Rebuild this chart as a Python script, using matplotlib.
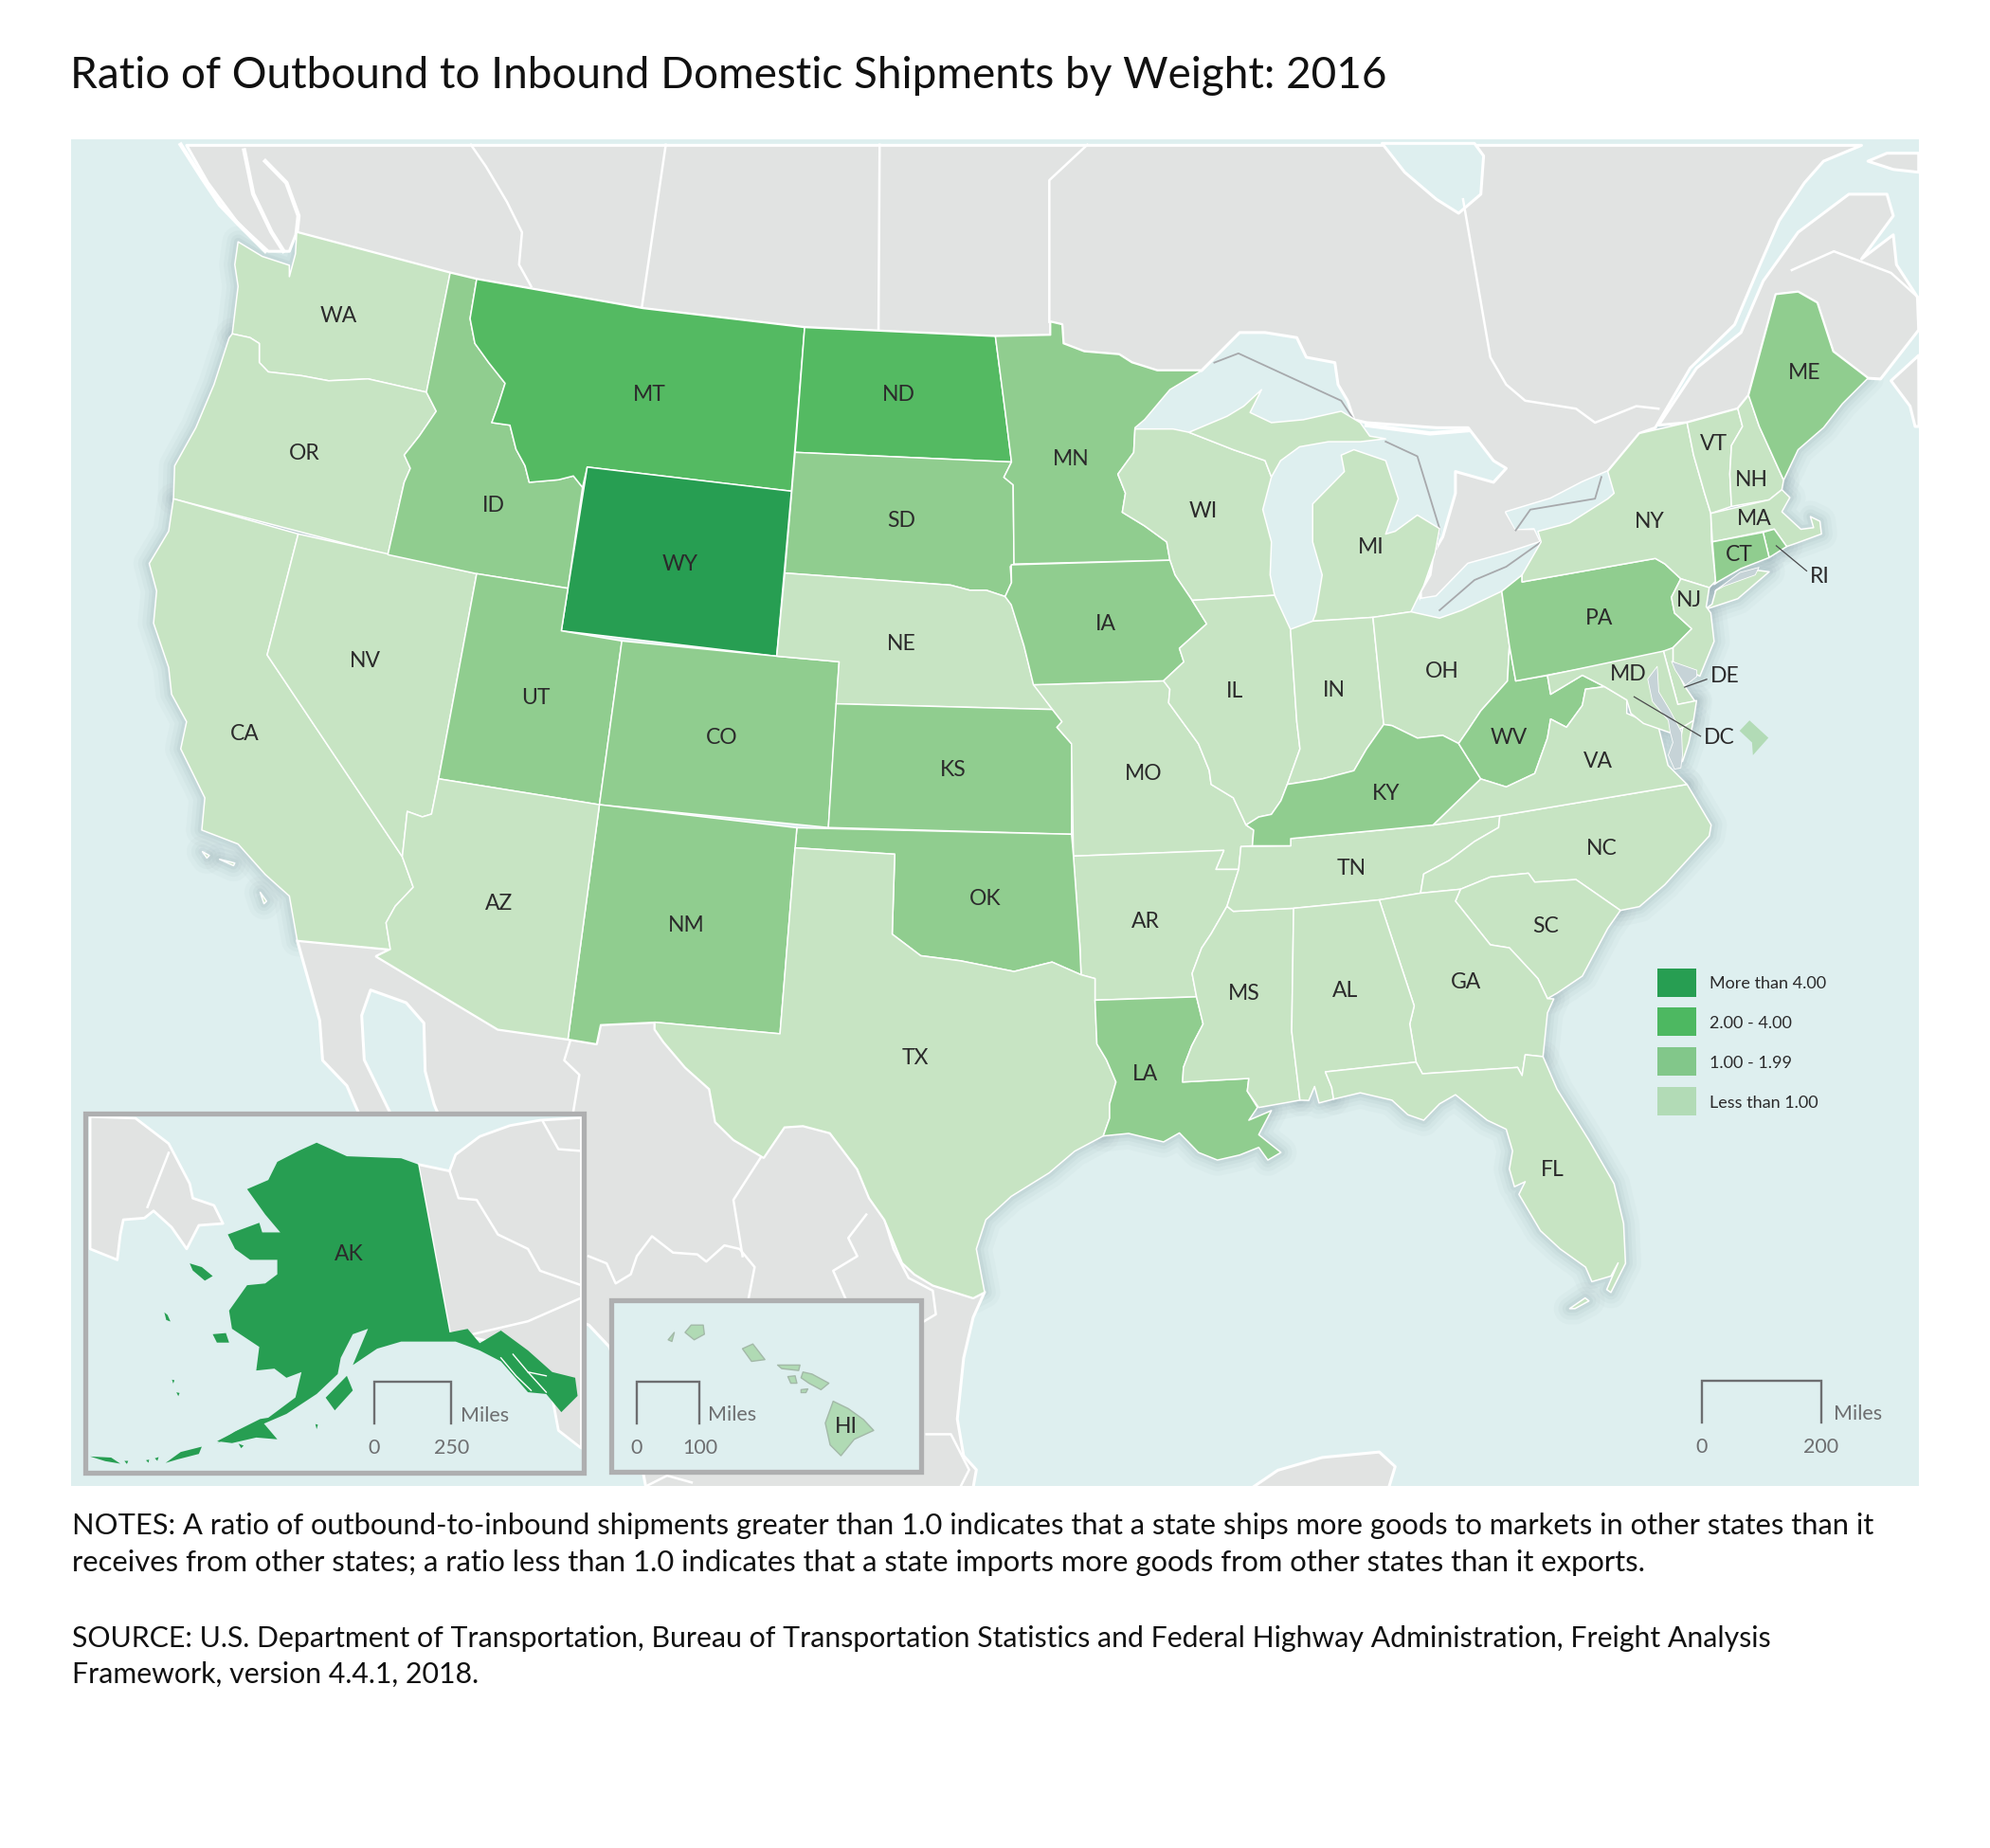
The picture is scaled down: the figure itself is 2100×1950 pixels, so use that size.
import matplotlib
matplotlib.use("Agg")
import matplotlib.pyplot as plt
from matplotlib.patches import Polygon, Rectangle

plt.rcParams['font.family'] = ['Lato', 'DejaVu Sans']

WA = [(233.8,183),(354.7,215),(336,309),(290,298.5),(259,300),(237.6,296),(211.4,293),(204.3,285.6),(204.3,270.6),(197,266),(183,263),(187.6,225.6),(185,208.5),(187.6,190.5),(206.6,202),(228,209),(228,218),(232.8,200)]
OR = [(180.5,266.3),(183,263),(197,266),(204.3,270.6),(204.3,285.6),(211.4,293),(237.6,296),(259,300),(290,298.5),(336,309),(343.7,324),(330.4,343.5),(318.5,358.5),(323.3,369),(318.5,380),(305.6,437),(136.7,393),(137.6,367),(154.3,337),(168.6,303)]
CA = [(136.7,393),(235,420.7),(210.5,516),(317,675),(325.6,699),(311.4,714),(304.2,727),(307.6,748),(234.2,741),(228,706),(209,689),(187.6,665),(159,654),(161.4,628.6),(142.4,590),(147,568.6),(135.2,547),(132.9,526),(121,491),(123.4,465.7),(117.6,444),(132.9,418.5)]
NV = [(235,420.7),(375.6,452),(345.6,613.6),(340,641.4),(332.8,643.6),(320.9,639.3),(317,675),(210.5,516)]
ID = [(354.7,215),(375.6,220),(370.4,251),(374.2,270.6),(385,285.6),(398,302),(392.3,320),(387.5,333),(401.8,335),(406.6,354),(413.7,367),(417,380),(440,378),(451.8,375),(459,384),(447.5,463.5),(375.6,452),(305.6,437),(318.5,380),(323.3,369),(318.5,358.5),(330.4,343.5),(343.7,324),(336,309)]
MT = [(375.6,220),(506.5,243),(634,258),(623.6,387),(462.7,368),(459,384),(451.8,375),(440,378),(417,380),(413.7,367),(406.6,354),(401.8,335),(387.5,333),(392.3,320),(398,302),(385,285.6),(374.2,270.6),(370.4,251)]
ND = [(634,258),(784.3,265),(792,324),(797,364),(626.5,356.4)]
SD = [(626.5,356.4),(797,364),(791,376),(798.3,382),(799,444.4),(796,446.4),(797,459),(792,470),(777,465),(764,465),(749,461),(618.4,451.5)]
WY = [(462.7,368),(623.6,387),(612,517),(442.3,497)]
UT = [(375.6,452),(447.5,463.5),(442.3,497),(490,505),(472.3,634),(345.6,613.6)]
CO = [(490,505),(612,517),(661.2,521.4),(652.7,652),(472.3,634)]
NE = [(618.4,451.5),(749,461),(764,465),(777,465),(792,470),(797,476.5),(806.8,508.6),(814.3,538.6),(829.3,559),(658.8,554.5),(661.2,521.4),(612,517)]
KS = [(658.8,554.5),(829.3,559),(836.8,568.6),(832.8,573),(844.3,586),(844.3,657.3),(652.7,652)]
MO = [(814.3,539.5),(916.8,536.4),(921.8,543),(920.8,553.7),(944.3,586),(952.8,607),(954.3,618),(971.8,628.6),(981.8,650),(987.8,654),(986.8,666.4),(977.8,667),(976,685),(958,685),(964.3,670),(845.8,674.5),(844.3,586),(832.8,573),(836.8,568.6),(829.3,559)]
AR = [(845.8,674.5),(964.3,670),(958,685),(976,685),(966.8,714),(954.3,735.7),(946.8,747),(939.3,767),(942.8,785.4),(862.8,788),(862.8,771),(851.8,768),(850.8,744)]
OK = [(627.9,652.2),(844.3,657.3),(845.8,674.5),(850.8,744),(851.8,768),(829,758),(799,765.4),(776.8,761),(756.8,757),(725.5,753),(703,736),(705,673),(626.5,668)]
NM = [(472.3,634),(627.9,652.2),(626.5,668),(614.6,814.5),(516,805.4),(473.2,807.4),(470,822.5),(447.5,818.8)]
AZ = [(345.6,613.6),(472.3,634),(447.5,818.8),(392.3,811),(296.5,753.5),(307.6,748),(304.2,727),(311.4,714),(325.6,699),(317,675),(320.9,639.3),(332.8,643.6),(340,641.4)]
TX = [(626.5,668),(705,673),(703,736),(725.5,753),(756.8,757),(776.8,761),(799,765.4),(829,758),(851.8,768),(862.8,771),(862.8,788),(864.3,822.5),(871.8,835),(879.3,852.5),(874.3,869.7),(874.3,881),(869.3,895),(846.8,907),(826.8,924),(796.8,942.6),(776.8,961),(769.3,984),(775.8,1018),(766.8,1022.6),(735,1012.6),(720.7,1004),(711,995),(697,961),(685,944),(675.5,921),(654,892.6),(632.7,887),(618,888),(601.7,912),(578,898),(563.7,884),(559,858),(540,841),(523,821),(516,811),(516,805.4),(614.6,814.5)]
LA = [(862.8,788),(942.8,785.4),(948,806.8),(939,824),(932.5,841),(931.8,852.5),(984,849.7),(982.8,859.7),(990.8,872.6),(984,882.6),(1001.8,875),(991.8,894),(1009.3,908),(999,914),(991.8,904),(976.8,910),(959.3,914),(944.3,908),(929.3,892.6),(916.8,899.7),(889.3,893),(869.3,895),(874.3,881),(874.3,869.7),(879.3,852.5),(871.8,835),(864.3,822.5)]
MS = [(971.8,718),(1019.3,715.6),(1017.8,812.5),(1024.3,866.8),(991.8,872.6),(982.8,859.7),(984,849.7),(931.8,852.5),(932.5,841),(939,824),(948,806.8),(942.8,785.4),(939.3,767),(946.8,747),(954.3,735.7),(966.8,714)]
TN = [(977.8,667),(1017,666.4),(1017,660.7),(1129.3,650),(1181.8,642.7),(1180.8,652),(1161.8,663),(1141.8,678),(1121.8,688.6),(1119.3,703.7),(1086.8,709),(1019.3,715.6),(971.8,718),(966.8,714),(976,685)]
NC = [(1181.8,642.7),(1329.3,618),(1348.3,650),(1346.8,658.6),(1311.8,697),(1291.8,714.3),(1276.8,717.3),(1241.8,693),(1209.3,695),(1204.3,688),(1174.3,691),(1150.8,700.6),(1119.3,703.7),(1121.8,688.6),(1141.8,678),(1161.8,663),(1180.8,652)]
SC = [(1150.8,700.6),(1174.3,691),(1204.3,688),(1209.3,695),(1241.8,693),(1276.8,717.3),(1266.8,731.5),(1246.8,769),(1226.8,782.5),(1219.3,786.8),(1211.8,771),(1189.3,746.8),(1174.3,744.4),(1146.8,710)]
GA = [(1086.8,709),(1119.3,703.7),(1150.8,700.6),(1146.8,710),(1174.3,744.4),(1189.3,746.8),(1211.8,771),(1219.3,786.8),(1224.3,787),(1219.3,798),(1215.8,832.5),(1201.8,831),(1199.3,847.4),(1195.8,841),(1120.8,846),(1115.8,836.8),(1110.8,806.8),(1114.3,792.5)]
AL = [(1019.3,715.6),(1086.8,709),(1114.3,792.5),(1110.8,806.8),(1115.8,836.8),(1044.3,844.5),(1049.3,856.8),(1050.8,866),(1039.3,869),(1035.8,856),(1031.3,867),(1024.3,866.8),(1017.8,812.5)]
FL = [(1050.8,866),(1049.3,856.8),(1044.3,844.5),(1115.8,836.8),(1120.8,846),(1195.8,841),(1199.3,847.4),(1201.8,831),(1215.8,832.5),(1226.8,858),(1251.8,898),(1271.8,932.6),(1279.3,964),(1280.8,995.4),(1269.3,1018.3),(1266,1016),(1275,995),(1269.3,1005.4),(1254.3,1009.8),(1249.3,998.3),(1229.3,984),(1213.8,969.7),(1196.8,941),(1201.8,931),(1193.3,935),(1189.3,921),(1191.8,906.8),(1186.8,889.7),(1171.8,882.6),(1146.8,862.5),(1134.3,869.7),(1121.8,882.6),(1109.3,878.3),(1096.8,866.8),(1071.8,861)]
FL_KEYS = [(1249,1022.6),(1236.8,1031),(1241,1031),(1252,1025)]
MN = [(784.3,265),(827.8,264),(827.8,253.6),(836.8,255.7),(837.8,270.7),(854.3,277),(881.8,279.3),(891.8,285.7),(911.8,292),(946.8,292),(921.8,307),(901.8,330.7),(894.3,337),(893.3,356.5),(880.8,373.6),(886.8,388.6),(884.3,403.6),(901.8,414.3),(919.3,427),(921.8,441.4),(799,444.4),(798.3,382),(791,376),(797,364),(792,324)]
WI = [(894.3,338),(924.3,338),(936.8,340.6),(971.8,354.3),(996.8,362.9),(1001.8,375.8),(995,401.5),(1001.8,427),(1000.8,453),(1004.3,469),(939.3,473),(925.8,453),(921.8,441.4),(919.3,427),(901.8,414.3),(884.3,403.6),(886.8,388.6),(880.8,373.6),(893.3,356.5)]
MI_UPPER = [(936.8,340.6),(966.8,328),(980,320),(994,307),(985,325),(1001.8,333),(1026.8,330.7),(1056.8,324),(1071.8,333),(1079.3,343.6),(1091.8,345.7),(1071.8,348),(1046.8,348),(1024,352),(1009,363),(1001.8,375.8),(996.8,362.9),(971.8,354.3)]
MI_LOWER = [(1034.3,489.4),(1081.8,486.4),(1111.8,482),(1121.8,461.5),(1130.8,435.8),(1134.3,416.5),(1116.8,405.8),(1099.3,418.6),(1091.8,420.8),(1101.8,392.9),(1091.8,362.9),(1066.8,354.3),(1056.8,358.6),(1059.3,371.5),(1034.3,397),(1034.3,427),(1041.8,453),(1036.8,483)]
IA = [(796.8,445),(921.8,441.4),(925.8,453),(939.3,473),(950.8,491.5),(929.3,510.8),(932.8,521.5),(916.8,536.4),(814.3,539.5),(806.8,508.6),(796.8,476.5),(792,470),(797,459)]
IL = [(939.3,473),(1004.3,469),(1016.8,495.8),(1021.8,568.7),(1024.3,590),(1014.3,618),(1009.3,630.8),(1001.8,641.6),(991.8,643.7),(981.8,650),(971.8,628.6),(954.3,618),(952.8,607),(944.3,586),(920.8,553.7),(921.8,543),(916.8,536.4),(932.8,521.5),(929.3,510.8),(950.8,491.5)]
IN = [(1016.8,495.8),(1034.3,489.4),(1081.8,486.4),(1090.3,570.8),(1076.8,590),(1066.8,607.2),(1041.8,613.7),(1014.3,618),(1024.3,590),(1021.8,568.7)]
OH = [(1081.8,486.4),(1111.8,482),(1134.3,487),(1151.8,480.8),(1183.3,465.8),(1189.3,508.6),(1187.8,536.5),(1166.8,560),(1156.8,575),(1149.3,585.8),(1136.8,579.4),(1116.8,581.5),(1096.8,571.7),(1090.3,570.8)]
KY = [(986.8,666.4),(1017,666.4),(1017,660.7),(1129.3,650),(1166.8,613.7),(1149.3,585.8),(1136.8,579.4),(1116.8,581.5),(1096.8,571.7),(1090.3,570.8),(1076.8,590),(1066.8,607.2),(1041.8,613.7),(1014.3,618),(1009.3,630.8),(1001.8,641.6),(991.8,643.7),(981.8,650),(987.8,654)]
WV = [(1189.3,508.6),(1194.3,536.5),(1219.3,532.2),(1221.8,547),(1246.8,532),(1264.3,541),(1249.3,543),(1246.8,555.8),(1234.3,573),(1221.8,566.5),(1219.3,581.5),(1209.3,609.4),(1186.8,620),(1166.8,613.7),(1149.3,585.8),(1156.8,575),(1166.8,560),(1187.8,536.5)]
VA = [(1129.3,650),(1166.8,613.7),(1186.8,620),(1209.3,609.4),(1219.3,581.5),(1221.8,566.5),(1234.3,573),(1246.8,555.8),(1249.3,543),(1264.3,541),(1281.8,551.5),(1281.8,562),(1306.8,573),(1314.3,603),(1329.3,618),(1181.8,642.7)]
VA_SHORE = [(1334.4,567.6),(1330.7,585),(1325.7,600),(1323,590),(1326,572)]
PA = [(1183.3,465.8),(1199.3,453),(1199.3,458.5),(1304.3,440),(1311.8,444.3),(1324.4,456),(1317,470.5),(1319.4,483),(1333,495.4),(1318.2,510.3),(1311,515),(1194.3,536.5),(1189.3,508.6)]
NY = [(1199.3,458.5),(1304.3,440),(1311.8,444.3),(1324.4,456),(1346.8,463),(1351.8,458),(1348.6,426.9),(1348,404.5),(1343,388.3),(1339.4,375.8),(1334.4,358.4),(1329.3,333),(1291.8,341.5),(1266.8,371.5),(1271.8,388.6),(1266.8,393),(1236.8,412),(1211.8,418.6),(1214.3,427),(1199.3,453)]
LONG_ISLAND = [(1343,480.4),(1369.3,471.7),(1394,450.5),(1382,449),(1372,452),(1352,465),(1349,476)]
VT = [(1329.3,333),(1369.3,322),(1373,336),(1364.3,351),(1363,373.4),(1364.3,399),(1348,404.5),(1343,388.3),(1339.4,375.8),(1334.4,358.4)]
NH = [(1369.3,322),(1377.8,311.5),(1386.2,336),(1405.4,378.3),(1404,385.8),(1394,393.8),(1364.3,399),(1363,373.4),(1364.3,351),(1373,336)]
ME = [(1377.8,311.5),(1399.3,232),(1416.8,230),(1431.8,238.6),(1444.3,277),(1471.8,298),(1451.8,318),(1436.8,337),(1416.8,354.3),(1405.4,378.3),(1386.2,336)]
MA = [(1348,404.5),(1394,393.8),(1404,385.8),(1410.3,392),(1404,403.2),(1419,417),(1429,415.7),(1426.5,407),(1434,410.7),(1435.2,420.7),(1415.3,428),(1407.8,430.6),(1398,416.9),(1349.3,426.9)]
RI = [(1389.2,419.4),(1398,416.9),(1407.8,430.6),(1394,439.3)]
CT = [(1349.3,426.9),(1389.2,419.4),(1394,439.3),(1371.7,448),(1354.3,458),(1350.6,460.5),(1351.8,458)]
NJ = [(1324.4,456),(1346.8,463),(1344.4,478),(1348,483),(1350.6,505.3),(1339.4,532.7),(1330,528),(1318.2,521.5),(1318.2,510.3),(1333,495.4),(1319.4,483),(1317,470.5)]
DE = [(1310.7,513),(1318.2,510.3),(1318.2,521.5),(1327,540),(1335.6,552.6),(1322,555)]
MD = [(1219.3,532.2),(1310.7,513),(1322,555),(1336.8,552),(1334.4,567.6),(1318,578),(1295,570),(1285,562),(1281.8,551.5),(1264.3,541),(1246.8,532),(1221.8,547)]
DC_MARK = [(1378.5,567.6),(1393.4,581.3),(1381.2,595),(1380.5,585),(1370.7,575.8)]

AK_MAIN = [(249.5,900.3),(273.3,911),(316.1,912.6),(329.4,917.4),(354.2,1049.8),(368.5,1047),(378,1058.3),(394.7,1048.3),(416,1064),(435.1,1081),(453.2,1085.5),(455.1,1099.8),(442.3,1112.6),(430.4,1098.3),(416,1096.9),(394.7,1072.6),(378,1064),(359,1057),(316.1,1057),(297.1,1062.6),(278,1075.5),(290,1046.9),(278,1051.2),(268.5,1069.8),(266.1,1082.6),(249.5,1098.3),(225.7,1114),(209,1121.2),(171,1137),(185,1128),(205,1118),(211.4,1117),(232.8,1101),(237.6,1081),(225.7,1085.5),(216.2,1078.3),(201.9,1079.8),(204.3,1061.2),(182.8,1046.9),(180.5,1032.6),(194.7,1012.6),(209,1011.2),(218.5,1004),(218.5,992.6),(197.1,992.6),(185.2,984),(179.5,972.6),(204.3,963.4),(206.6,971),(220.9,971),(209,956.9),(194.7,936.9),(211.4,929.7),(218.5,915.4),(235.2,906.8)]
AK_ALEUT_1 = [(171,1135.5),(187.6,1127),(206.6,1120),(218.5,1134),(201.9,1132.6),(182.8,1137)]
AK_ALEUT_2 = [(130.5,1152.6),(142.4,1144),(159,1139.8),(156.7,1145.5),(140,1149.8)]
AK_ALEUT_3 = [(71,1147.5),(87.6,1148.4),(94.8,1153.2),(82.9,1151.2)]
AK_ALEUT_4 = [(98,1151),(101,1151),(100,1153.5)]
AK_ALEUT_5 = [(115,1150.5),(117.5,1150),(117,1152.5)]
AK_ALEUT_6 = [(122,1149),(125,1148),(124,1151)]
AK_DOT_1 = [(135.5,1087),(137.5,1087.5),(136.5,1090)]
AK_DOT_2 = [(139,1097),(141.5,1097.5),(140.5,1100)]
AK_DOT_3 = [(248.5,1122),(250.5,1122.5),(249.5,1126)]
AK_DOT_4 = [(188,1137.5),(192,1139),(190,1141)]
AK_KODIAK = [(256.6,1101.2),(273.3,1084),(278,1095.5),(263.8,1111.2)]
AK_ST_LAWRENCE = [(149.5,995.4),(159,998.3),(167.6,1005.4),(161.4,1009),(151.9,1001)]
AK_NUNIVAK = [(167.6,1051.2),(178,1050.3),(180.5,1057.8),(170.9,1057.8)]
AK_ST_MATTHEW = [(129.5,1034),(132,1036),(134.3,1041.2),(131,1040)]
SE_CHANNEL_1 = [(394.7,1069.8),(406.6,1084),(418.5,1095.5)]
SE_CHANNEL_2 = [(404.2,1067),(416,1081),(430.4,1096.9)]
SE_CHANNEL_3 = [(416,1081),(430.4,1084)]

HI_BIG = [(656.5,1104),(668.4,1109.8),(680.3,1118.4),(688.4,1127),(673.1,1134),(662.6,1146.9),(654.1,1138.4),(650.3,1121.2)]
HI_MAUI = [(632.7,1081),(639.8,1082.6),(653.1,1089.8),(646.9,1094.9),(637.4,1089.8),(631.2,1085.5)]
HI_MOLOKAI = [(612.7,1075.5),(630.3,1075.5),(629.3,1079.8),(616,1078.3)]
HI_LANAI = [(620.8,1084.6),(626.5,1084),(627.9,1089.8),(623.1,1089.8)]
HI_KAHOOLAWE = [(631.2,1094.9),(636.5,1094.3),(635,1097.2),(631.2,1097.2)]
HI_OAHU = [(593.2,1058.9),(599.3,1066.8),(602.7,1071.2),(592.2,1072.6),(585,1062.6)]
HI_KAUAI = [(544.6,1044),(554.1,1044),(555,1051.2),(547,1055.6),(539.8,1049.8)]
HI_NIIHAU = [(531.3,1049.8),(526.5,1055.6),(529.4,1056.9)]

CANADA = [(147,114.5),(1466.8,114.5),(1436.8,127),(1421.8,144),(1401.8,174),(1386.8,208.5),(1366.8,255.7),(1331.8,290),(1314.3,320),(1304.3,337),(1291.8,341.5),(1266.8,371.5),(1246.8,380),(1221.8,393),(1186.8,403.6),(1194.3,416.5),(1209.3,416.5),(1214.3,427),(1186.8,436),(1156.8,444.3),(1131.8,470),(1119.3,472),(1119.3,465.8),(1126.8,453),(1129.3,435.8),(1136.8,423),(1146.8,388.6),(1146.8,371.5),(1176.8,380),(1186.8,369),(1176.8,363),(1156.8,337),(1131.8,337),(1076.8,333),(1066.8,330.7),(1061.8,315.7),(1054.3,303),(1051.8,285.7),(1029.3,281.5),(1021.8,266),(996.8,262),(976.8,262),(961.8,277),(946.8,292),(911.8,292),(891.8,285.7),(881.8,279.3),(854.3,277),(837.8,270.7),(836.8,255.7),(827.8,253.6),(827.8,264),(784.3,265),(634,258),(506.5,243),(375.6,220),(354.7,215),(233.8,183),(228,198),(211.4,198),(187.6,176),(163.8,144)]
GASPE = [(1306.8,335),(1336.8,290),(1371.8,262),(1389.3,221.4),(1416.8,183),(1456.8,153),(1486.8,153),(1491.8,170),(1466.8,204),(1491.8,185),(1494.3,208.5),(1510.8,234),(1511.8,260),(1491.8,285.7),(1481.8,298.6),(1471.8,298),(1444.3,277),(1431.8,238.6),(1416.8,230),(1399.3,232),(1377.8,311.5),(1369.3,322),(1329.3,333)]
NOVA_SCOTIA = [(1511.8,280),(1490,300),(1505,320),(1509,336),(1512,336)]
ANTICOSTI = [(1471.8,127),(1486.8,120.7),(1511.8,120.7),(1511.8,135.7),(1491.8,133.5)]
MEXICO = [(234.2,741),(307.6,748),(296.5,753.5),(392.3,811),(447.5,818.8),(470,822.5),(473.2,807.4),(516,805.4),(516,811),(523,821),(540,841),(559,858),(563.7,884),(578,898),(601.7,912),(618,888),(632.7,887),(654,892.6),(675.5,921),(685,944),(697,961),(711,995),(720.7,1004),(735,1012.6),(766.8,1022.6),(775.8,1018),(766.8,1038),(759.3,1070),(754.3,1118),(759.3,1147),(769.3,1158),(766.8,1172),(509,1172),(495,1100),(480,1061),(464,1044),(350,1000),(283,878),(273.3,855.4),(254.2,835.4),(251.9,804),(242.3,769.7)]
YUCATAN = [(986.8,1172),(1006.8,1158.4),(1041.8,1148.3),(1086.8,1144),(1099.3,1155.5),(1094.3,1172)]
GULF_CALIFORNIA = [(292,780),(320,790),(334,806),(335,844),(342,870),(347,882),(310,882),(287,835),(285,800)]
JAMES_BAY = [(1089,113),(1106.8,135.7),(1131.8,157),(1149.3,168),(1166.8,153),(1169,122.8),(1161.8,113)]
LAKE_ONTARIO = [(1194,417),(1209,416),(1214,427),(1236.8,412),(1266.8,393),(1271.8,388),(1266.8,371.5),(1246.8,380),(1221.8,393),(1186.8,403.6)]
LAKE_ERIE = [(1119,472),(1131.8,470),(1156.8,444.3),(1186.8,436),(1214.3,427),(1199.3,453),(1183.3,465.8),(1151.8,480.8),(1134.3,487),(1121,482)]
LAKE_MICHIGAN = [(1004,469),(1001,427),(995,401),(1010,370),(1034,352),(1056,358),(1059,371),(1034,397),(1034,427),(1041,453),(1036,484),(1020,496)]
CHESAPEAKE = [(1305.8,525),(1298.3,535),(1302,552.6),(1314.5,567.6),(1316,577),(1318.2,585),(1314.5,595),(1319.4,606),(1324.4,605),(1325.7,595),(1325,577),(1316,560),(1307,545)]
DELAWARE_BAY = [(1317,521),(1337,528),(1337,533),(1328,540),(1320,528)]
LI_SOUND = [(1351,466),(1371,451),(1386,447),(1383,453),(1358,462)]

RUSSIA = [(71,879.7),(106.7,881),(132.9,901),(149.5,932.6),(151.9,944),(168.6,949.7),(175.7,964),(156.7,965.4),(147.1,984),(135.2,966.9),(121,954),(113.8,959.7),(97.2,961),(94.8,972.6),(92.4,992.6),(71,984)]
YUKON = [(329.4,917.4),(354.2,922.6),(359,909.7),(378,895.4),(401.8,886.8),(425.6,882.6),(458,880.6),(458,1141),(440,1127),(435,1100),(400,1060),(354.2,1049.8)]

BC_COAST_1 = [(142.4,114),(159,140),(173.3,161.4),(187.6,176.3),(209,197.7)]
BC_COAST_2 = [(192.4,118.4),(199.5,152.8),(213.8,182.7),(223.3,197.7)]
BC_COAST_3 = [(209,127),(225.7,144),(235.2,170),(233.8,183)]
NORTH_CHANNEL = [(1076.8,335),(1126.8,341.5),(1156.8,339)]
BC_AB = [(371,114),(382.8,131),(399.4,159),(411.3,183),(409,208.5),(418.5,225.6)]
AB_SK = [(524.6,114),(505.6,243)]
SK_MB = [(693.1,114),(692.2,261)]
MB_ON = [(856.8,114),(826.8,142),(826.8,253.6)]
ON_QC = [(1152.8,157),(1174.3,281.5),(1186.8,303),(1201.8,315.7),(1241.8,322),(1256.8,333),(1289.3,320),(1306.8,322)]
QC_NB = [(1411.8,212.8),(1445,198),(1490,215),(1511,234)]
MX_SONORA = [(449.4,819.7),(444.6,835.4),(456.5,846.8),(451.8,875.4)]
MX_CHIHUAHUA = [(599.4,912),(577.9,945.4),(585.1,989.7)]
MX_CENTRAL = [(463.7,989.7),(478,995.4),(485.1,1011.2),(497,1004),(501.8,989.7),(513.7,974),(530.3,986.9),(549.4,988.3),(556.5,994),(570.8,981.2),(582.7,984),(594.6,998.3),(589.9,1022.6)]
MX_TAMPS = [(682.6,956.9),(668.4,975.4),(675.5,989.7),(656.5,1001.2),(666,1022.6)]
MX_TAMPS_2 = [(697,961),(704,984),(716,1006.9),(735,1016.9),(737.4,1035.5),(725.5,1042.6)]
MX_SOUTH = [(730,1130),(749.3,1130),(763.6,1158),(757,1171)]
MX_BOTTOM = [(509,1171),(525.6,1162.6),(545,1168)]
YUKON_NWT = [(354.2,922.6),(361.3,944),(375.6,945.4),(392.3,972.6),(416,984),(425.6,1001.2),(458,1012.6)]
YUKON_BC = [(373.2,1051),(416,1041),(458,1022.6)]
NWT_NU = [(428,884),(440,905.4),(458,906.8)]
RUSSIA_LINE = [(132.9,908.3),(116.2,951)]

BORDER_SUPERIOR = [(956.8,285.7),(975.8,278.4),(1056.8,315.7),(1066.8,330.7)]
BORDER_HURON = [(1091.8,347.9),(1116.8,359.5),(1134.3,416.5),(1130.8,435)]
BORDER_ERIE = [(1134.3,480.8),(1161.8,457),(1186.8,446.5),(1214.3,427)]
BORDER_ONTARIO = [(1194.3,417.8),(1205.8,401.5),(1256.8,392.9),(1261.8,375.8)]

CHANNEL_1 = [(159.5,671),(165,674),(163,676)]
CHANNEL_2 = [(173,677),(185,680),(184,682)]
CHANNEL_3 = [(205,703),(210,710),(208,712)]

# ratio classes and the legend
more_than_4 = ["WY", "AK"]
from_2_to_4 = ["MT", "ND"]
from_1_to_2 = ["ID", "UT", "CO", "NM", "SD", "KS", "OK", "MN", "IA", "LA", "KY", "WV", "PA", "ME", "CT", "RI"]
less_than_1 = ["WA", "OR", "CA", "NV", "AZ", "NE", "TX", "MO", "AR", "MS", "AL", "GA", "FL", "SC", "NC", "TN", "VA", "MD", "DE", "NJ", "NY", "VT", "NH", "MA", "OH", "IN", "IL", "WI", "MI", "HI", "DC"]
legend_labels = ["More than 4.00", "2.00 - 4.00", "1.00 - 1.99", "Less than 1.00"]
legend_colors = ["#279E52", "#4DB861", "#82C78A", "#B2DBB6"]

state_names = ["WA","OR","CA","NV","ID","MT","WY","UT","CO","AZ","NM","ND","SD","NE","KS","OK","TX","MN","IA","MO","AR","LA","WI","IL","IN","MI","OH","KY","TN","MS","AL","GA","FL","SC","NC","VA","WV","PA","NY","VT","NH","ME","MA","CT","RI","NJ","DE","MD","DC","AK","HI"]
label_x = [267,240,193,288,389,512,536,422,569,393,541,708,710,710,751,776,721,844,871,901,903,902,948,973,1051,1080,1136,1092,1065,980,1060,1155,1223,1218,1262,1259,1189,1260,1300,1350,1380,1422,1382,1370,1434,1331,1359,1283,1355,275,667]
label_y = [249,357,578,521,398,311,445,550,581,712,729,311,410,507,607,708,834,362,492,610,726,846,403,545,544,431,529,625,684,783,781,774,922,730,669,600,581,487,411,350,378,294,409,437,454,473,533,531,581,988,1124]

title = "Ratio of Outbound to Inbound Domestic Shipments by Weight: 2016"
notes = ["NOTES: A ratio of outbound-to-inbound shipments greater than 1.0 indicates that a state ships more goods to markets in other states than it",
         "receives from other states; a ratio less than 1.0 indicates that a state imports more goods from other states than it exports."]
source = ["SOURCE: U.S. Department of Transportation, Bureau of Transportation Statistics and Federal Highway Administration, Freight Analysis",
          "Framework, version 4.4.1, 2018."]

shapes = {"WA":[WA],"OR":[OR],"CA":[CA,CHANNEL_1,CHANNEL_2,CHANNEL_3],"NV":[NV],"ID":[ID],"MT":[MT],"ND":[ND],"SD":[SD],"WY":[WY],"UT":[UT],"CO":[CO],
          "NE":[NE],"KS":[KS],"MO":[MO],"AR":[AR],"OK":[OK],"NM":[NM],"AZ":[AZ],"TX":[TX],"LA":[LA],"MS":[MS],"TN":[TN],"NC":[NC],"SC":[SC],"GA":[GA],
          "AL":[AL],"FL":[FL,FL_KEYS],"MN":[MN],"WI":[WI],"MI":[MI_UPPER,MI_LOWER],"IA":[IA],"IL":[IL],"IN":[IN],"OH":[OH],"KY":[KY],"WV":[WV],
          "VA":[VA,VA_SHORE],"PA":[PA],"NY":[NY,LONG_ISLAND],"VT":[VT],"NH":[NH],"ME":[ME],"MA":[MA],"RI":[RI],"CT":[CT],"NJ":[NJ],"DE":[DE],"MD":[MD]}
coastal = ["WA","OR","CA","TX","LA","MS","AL","FL","GA","SC","NC","VA","MD","DE","NJ","NY","CT","RI","MA","NH","ME"]
alaska_parts = [AK_MAIN,AK_ALEUT_1,AK_ALEUT_2,AK_ALEUT_3,AK_ALEUT_4,AK_ALEUT_5,AK_ALEUT_6,AK_DOT_1,AK_DOT_2,AK_DOT_3,AK_DOT_4,AK_KODIAK,AK_ST_LAWRENCE,AK_NUNIVAK,AK_ST_MATTHEW]
hawaii_parts = [HI_BIG,HI_MAUI,HI_MOLOKAI,HI_LANAI,HI_KAHOOLAWE,HI_OAHU,HI_KAUAI,HI_NIIHAU]
white_lines = [BC_AB,AB_SK,SK_MB,MB_ON,ON_QC,QC_NB,MX_SONORA,MX_CHIHUAHUA,MX_CENTRAL,MX_TAMPS,MX_TAMPS_2,MX_SOUTH,MX_BOTTOM]
thick_white = [BC_COAST_1,BC_COAST_2,BC_COAST_3,NORTH_CHANNEL]

SEA = "#DEEFEF"
LAND = "#E1E3E2"
INK = "#2B2A2B"
GREY = "#6D6E70"
BAY = "#C6D3D7"


def class_color(st):
    if st in more_than_4:
        return "#279E52"
    if st in from_2_to_4:
        return "#54BA62"
    if st in from_1_to_2:
        return "#90CD8F"
    return "#C7E4C3"


fig = plt.figure(figsize=(21, 19.5), dpi=100)
ax = fig.add_axes([0, 0, 1, 1])
ax.set_xlim(0, 1568)
ax.set_ylim(1456, 0)
ax.axis("off")

sea = Rectangle((56, 110), 1456, 1061, fc=SEA, ec="none", zorder=0)
ax.add_patch(sea)


def poly(pts, fc, ec="white", lw=1.0, z=3, clip=sea):
    p = Polygon(pts, closed=True, fc=fc, ec=ec, lw=lw, zorder=z, joinstyle="round")
    ax.add_patch(p)
    p.set_clip_path(clip)
    return p


def line(pts, color="white", lw=1.5, z=2.5, clip=sea):
    l, = ax.plot([p[0] for p in pts], [p[1] for p in pts], color=color, lw=lw, zorder=z, solid_joinstyle="round")
    l.set_clip_path(clip)


# soft shadow on the sea side of the coast
for width, alpha in [(24, 0.05), (17, 0.07), (11, 0.09), (6, 0.12)]:
    for st in coastal:
        for part in shapes[st]:
            q = Polygon(part, closed=True, fc="none", ec="#8FA6AE", lw=width, alpha=alpha, zorder=1, joinstyle="round")
            ax.add_patch(q)
            q.set_clip_path(sea)

for part in [CANADA, GASPE, NOVA_SCOTIA, ANTICOSTI, MEXICO, YUCATAN]:
    poly(part, LAND, lw=2.2, z=2)
for part in [GULF_CALIFORNIA, JAMES_BAY]:
    poly(part, SEA, lw=2.2, z=2.2)
for part in [LAKE_ONTARIO, LAKE_ERIE, LAKE_MICHIGAN]:
    poly(part, SEA, ec="none", lw=0, z=2.2)
for part in white_lines:
    line(part, lw=1.8)
for part in thick_white:
    line(part, lw=3.2)

for st, parts in shapes.items():
    for part in parts:
        poly(part, class_color(st), lw=1.1, z=3)
for part in [CHESAPEAKE, DELAWARE_BAY, LI_SOUND]:
    poly(part, BAY, ec="white", lw=0.6, z=3.5)
poly(DC_MARK, "#B2DBB6", ec="none", lw=0, z=3.5, clip=None)

for part in [BORDER_SUPERIOR, BORDER_HURON, BORDER_ERIE, BORDER_ONTARIO]:
    line(part, color="#A7A9AC", lw=1.3, z=2.8)
for leader in [[(1399.6,430),(1423.5,449.8)], [(1327.4,541.4),(1344.8,535.2)], [(1287.6,549),(1339.9,580)]]:
    line(leader, color="#4A4A4C", lw=0.9, z=4)

# Alaska inset
ak_box = Rectangle((67.2, 877.4), 393.1, 283, fc=SEA, ec="none", zorder=5)
ax.add_patch(ak_box)
for part in [RUSSIA, YUKON]:
    poly(part, LAND, lw=2.0, z=5.2, clip=ak_box)
for part in [YUKON_NWT, YUKON_BC, NWT_NU, RUSSIA_LINE]:
    line(part, lw=1.8, z=5.3, clip=ak_box)
for part in alaska_parts:
    poly(part, class_color("AK"), ec="none", lw=0, z=5.5, clip=ak_box)
for part in [SE_CHANNEL_1, SE_CHANNEL_2, SE_CHANNEL_3]:
    line(part, lw=1.0, z=5.6, clip=ak_box)
ax.add_patch(Rectangle((67.2, 877.4), 393.1, 283, fc="none", ec="#AEAFB0", lw=3.8, zorder=6))

# Hawaii inset
hi_box = Rectangle((481.8, 1024.6), 243.7, 135.2, fc=SEA, ec="none", zorder=5)
ax.add_patch(hi_box)
for part in hawaii_parts:
    poly(part, "#B0DAB4", ec="#A3B9A8", lw=1.0, z=5.5, clip=hi_box)
ax.add_patch(Rectangle((481.8, 1024.6), 243.7, 135.2, fc="none", ec="#AEAFB0", lw=3.8, zorder=6))

# scale bars
for x0, x1, y0, y1 in [(294.7, 355.6, 1089, 1121.8), (501.8, 550.8, 1089, 1121.2), (1340.8, 1435.3, 1087.8, 1120.4)]:
    ax.plot([x0, x0, x1, x1], [y1, y0, y0, y1], color=GREY, lw=1.7, zorder=7, solid_joinstyle="miter")
for x, y, s, ha in [(362.8, 1115.5, "Miles", "left"), (294.7, 1141.2, "0", "center"), (356, 1141.2, "250", "center"),
                    (557.9, 1115, "Miles", "left"), (501.8, 1140.6, "0", "center"), (551.7, 1140.6, "100", "center"),
                    (1444.8, 1114, "Miles", "left"), (1340.8, 1139.8, "0", "center"), (1434.8, 1139.8, "200", "center")]:
    ax.text(x, y, s, ha=ha, va="center", fontsize=15.5, color=GREY, zorder=7)

for st, x, y in zip(state_names, label_x, label_y):
    ax.text(x, y, st, ha="center", va="center", fontsize=16.5, color=INK, zorder=7)

# legend
swatch_top = [763, 794, 825.4, 856.3]
text_y = [775.4, 806.2, 837.7, 869]
for lab, col, top, ty in zip(legend_labels, legend_colors, swatch_top, text_y):
    ax.add_patch(Rectangle((1305.8, top), 31, 22.2, fc=col, ec="none", zorder=4))
    ax.text(1346.8, ty, lab, ha="left", va="center", fontsize=13, color=INK, zorder=4)

ax.text(55, 60, title, ha="left", va="center", fontsize=33, color="#111111")
for y, s, size in zip([1202, 1231], notes, [22.2, 22.3]):
    ax.text(57, y, s, ha="left", va="center", fontsize=size, color="#111111")
for y, s in zip([1291, 1319], source):
    ax.text(57, y, s, ha="left", va="center", fontsize=21.8, color="#111111")

fig.savefig("out.png", dpi=100, facecolor="white")
